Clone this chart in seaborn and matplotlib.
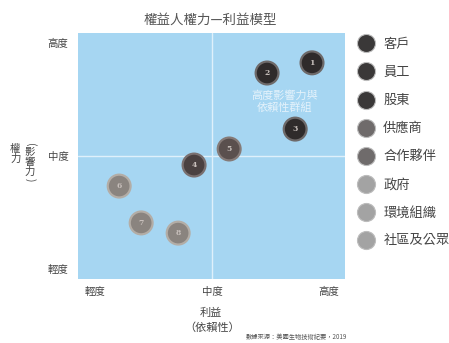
import matplotlib
matplotlib.use("Agg")
import matplotlib.pyplot as plt
import seaborn as sns
import pandas as pd
from matplotlib.lines import Line2D

# Stakeholders, their interest (x) and power (y) scores on a 0-10 scale
stakeholders = ["客戶", "員工", "股東", "供應商", "合作夥伴", "政府", "環境組織", "社區及公眾"]
interest = [9.27, 7.35, 8.55, 4.23, 5.73, 1.03, 1.97, 3.55]
power = [9.12, 8.67, 6.19, 4.60, 5.31, 3.67, 2.04, 1.59]
level_ticks = [0, 5, 10]
level_labels = ["輕度", "中度", "高度"]

fill_colors = ["#2f2b2b", "#2f2b2b", "#2f2b2b", "#4a4141", "#5a504e",
               "#8a847f", "#8a847f", "#8a847f"]
rim_colors = ["#6e6a6a", "#6e6a6a", "#6e6a6a", "#7a7070", "#857b78",
              "#b3ada6", "#b3ada6", "#b3ada6"]
legend_colors = ["#3a3838", "#3a3838", "#3a3838", "#6f6b6b", "#6f6b6b",
                 "#a3a3a3", "#a3a3a3", "#a3a3a3"]

df = pd.DataFrame({"name": stakeholders, "interest": interest, "power": power,
                   "num": [str(i + 1) for i in range(len(stakeholders))]})

sns.set_theme(style="white")
plt.rcParams["font.family"] = ["Noto Sans CJK TC", "DejaVu Sans"]

fig = plt.figure(figsize=(4.49, 3.43), dpi=100)
ax = fig.add_axes([0.1737, 0.1866, 0.5947, 0.7172])
ax.set_facecolor("#a6d6f2")
for s in ax.spines.values():
    s.set_visible(False)

ax.set_xlim(-0.73, 10.68)
ax.set_ylim(-0.44, 10.44)

# quadrant divider lines
ax.axvline(5, color="#dff0fb", lw=1.0, zorder=1)
ax.axhline(5, color="#dff0fb", lw=1.0, zorder=1)

sns.scatterplot(data=df, x="interest", y="power", hue="name",
                palette=dict(zip(stakeholders, fill_colors)),
                s=270, edgecolor=rim_colors, linewidth=1.6,
                legend=False, ax=ax, zorder=3)

for _, r in df.iterrows():
    ax.text(r["interest"], r["power"], r["num"], ha="center", va="center",
            fontsize=5.5, color="#c8c0bc", fontweight="bold", zorder=4,
            family="DejaVu Serif")

ax.text(8.1, 7.4, "高度影響力與\n依賴性群組", ha="center", va="center",
        fontsize=8, color="#e4f2fb", linespacing=1.25, zorder=2)

ax.set_xticks(level_ticks)
ax.set_xticklabels(level_labels, fontsize=7.5, color="#444444")
ax.set_yticks(level_ticks)
ax.set_yticklabels(level_labels, fontsize=7.5, color="#444444")
ax.tick_params(axis="x", length=0, pad=6)
ax.tick_params(axis="y", length=0, pad=7)
ax.set_xlabel("")
ax.set_ylabel("")

fig.text(0.468, 0.943, "權益人權力—利益模型", ha="center", va="center",
         fontsize=9.7, color="#555555")
fig.text(0.470, 0.088, "利益", ha="center", va="center", fontsize=8, color="#444444")
fig.text(0.472, 0.045, "（依賴性）", ha="center", va="center", fontsize=8, color="#444444")

# vertical y-axis title: 權力（影響力）
fig.text(0.034, 0.551, "權\n力", ha="center", va="center", fontsize=7.5,
         color="#444444", linespacing=1.0)
fig.text(0.067, 0.528, "影\n響\n力", ha="center", va="center", fontsize=7.5,
         color="#444444", linespacing=1.0)
fig.text(0.067, 0.579, "(", ha="center", va="center", fontsize=7.5,
         color="#444444", rotation=-90)
fig.text(0.067, 0.477, ")", ha="center", va="center", fontsize=7.5,
         color="#444444", rotation=-90)

fig.text(0.66, 0.018, "數據來源：美國生物技術紀要，2019", ha="center", va="center",
         fontsize=4.5, color="#555555")

handles = [Line2D([0], [0], marker="o", ls="", markersize=13,
                  markerfacecolor=c, markeredgecolor="#bdbdbd", markeredgewidth=0.8)
           for c in legend_colors]
leg = ax.legend(handles, stakeholders, loc="upper left",
                bbox_to_anchor=(0.799, 0.889), bbox_transform=fig.transFigure,
                frameon=False, fontsize=9.5, labelspacing=1.14,
                handletextpad=0.7, handlelength=1.15, borderaxespad=0,
                borderpad=0)
for t in leg.get_texts():
    t.set_color("#444444")

fig.savefig("out.png", dpi=100)
